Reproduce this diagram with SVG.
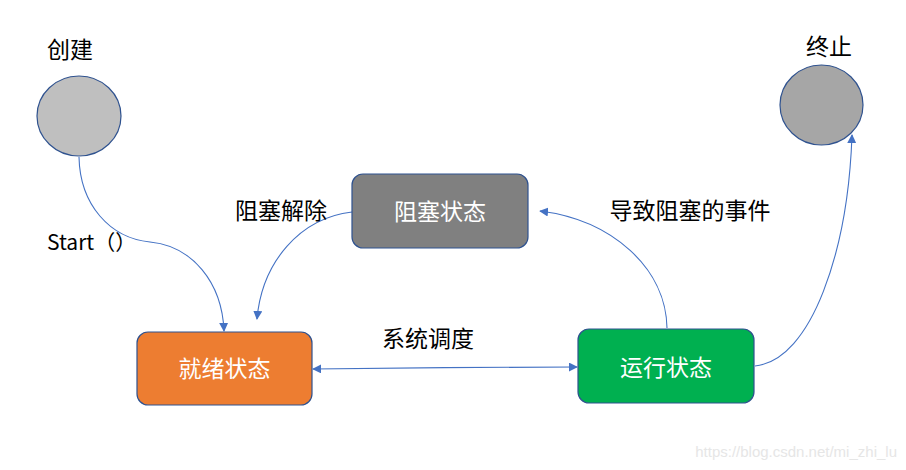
<svg xmlns="http://www.w3.org/2000/svg" width="906" height="470" viewBox="0 0 906 470">
<defs>
<style>
.t{font-family:"Microsoft YaHei","Noto Sans CJK SC",sans-serif;font-size:23px;fill:#000;}
.w{font-family:"Microsoft YaHei","Noto Sans CJK SC",sans-serif;font-size:23px;fill:#fff;text-anchor:middle;}
.box{stroke:#2F528F;stroke-width:1.2;}
.c{fill:none;stroke:#4472C4;stroke-width:1.1;}
</style>
<marker id="ah" viewBox="0 0 10 10" refX="9" refY="5" markerWidth="9" markerHeight="9" markerUnits="userSpaceOnUse" orient="auto-start-reverse">
<path d="M0,0 L10,5 L0,10 Z" fill="#4472C4"/>
</marker>
</defs>
<rect width="906" height="470" fill="#fff"/>
<g id="connectors">
<path class="c" d="M79,157 C80,205 110,238 150,242 C192,246 222,282 224,331" marker-end="url(#ah)"/>
<path class="c" d="M352,212 C300,218 262,262 257,319" marker-end="url(#ah)"/>
<path class="c" d="M313,369 C400,368 490,367 577,367" marker-start="url(#ah)" marker-end="url(#ah)"/>
<path class="c" d="M667,328 C666,268 612,220 540,211" marker-end="url(#ah)"/>
<path class="c" d="M755,366 C812,360 848,250 852,135" marker-end="url(#ah)"/>
</g>
<g id="create">
<ellipse cx="79" cy="116" rx="42" ry="40" fill="#BFBFBF" class="box"/>
<text class="t" x="70" y="58" text-anchor="middle">创建</text>
</g>
<g id="terminate">
<ellipse cx="821.5" cy="105" rx="41.5" ry="40" fill="#A6A6A6" class="box"/>
<text class="t" x="829" y="55" text-anchor="middle">终止</text>
</g>
<g id="blocked">
<rect x="352" y="174" width="176" height="74" rx="11" fill="#808080" class="box"/>
<text class="w" x="440" y="220">阻塞状态</text>
</g>
<g id="ready">
<rect x="137" y="332" width="175" height="73" rx="11" fill="#ED7D31" class="box"/>
<text class="w" x="224.5" y="377">就绪状态</text>
</g>
<g id="running">
<rect x="578" y="329" width="176" height="74" rx="11" fill="#00B050" class="box"/>
<text class="w" x="666" y="376">运行状态</text>
</g>
<g id="labels">
<text class="t" x="47" y="250" style="font-family:'Microsoft YaHei','Noto Sans CJK SC',sans-serif;font-size:21px">Start（）</text>
<text class="t" x="281" y="219" text-anchor="middle">阻塞解除</text>
<text class="t" x="428" y="347" text-anchor="middle">系统调度</text>
<text class="t" x="690" y="219" text-anchor="middle">导致阻塞的事件</text>
</g>
<text x="897" y="457" text-anchor="end" style="font-family:'Liberation Sans',Arial,sans-serif;font-size:15px;fill:#e6e6e6">https://blog.csdn.net/mi_zhi_lu</text>
</svg>
